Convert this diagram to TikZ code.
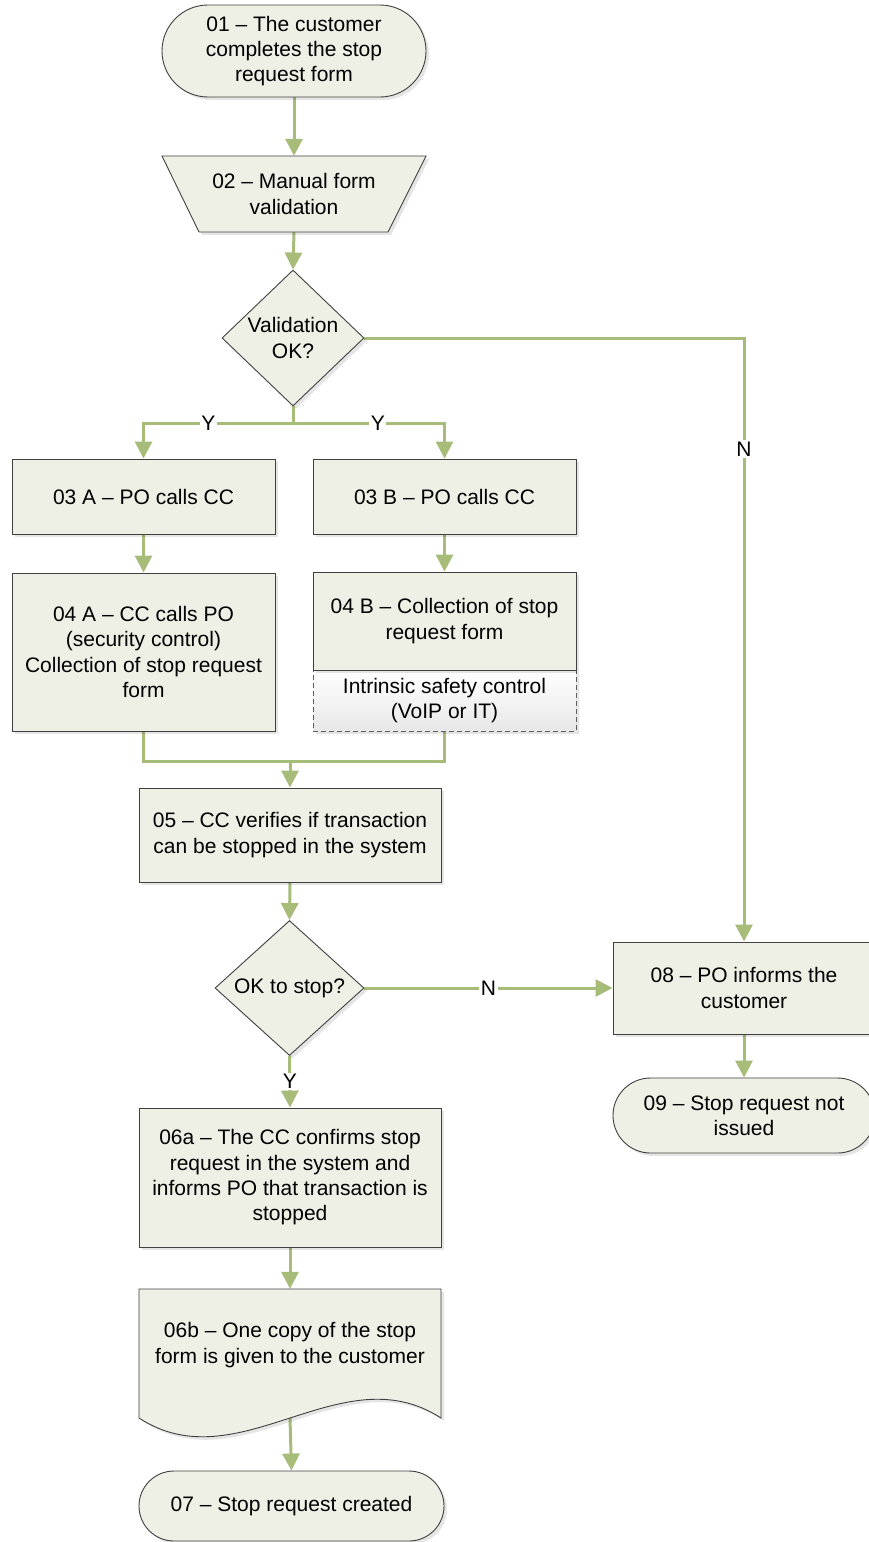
\documentclass[tikz,border=0pt]{standalone}
\usepackage{fontspec}
\setmainfont{Liberation Sans}
\usetikzlibrary{shapes.geometric,arrows.meta,shadows}
\pgfdeclarelayer{bg}
\pgfsetlayers{bg,main}
\definecolor{flowfill}{RGB}{238,240,229}
\definecolor{flowline}{RGB}{168,188,122}
\definecolor{edgegray}{RGB}{64,64,64}
\begin{document}
\begin{tikzpicture}[x=1pt,y=-1pt,
  font=\fontsize{21}{25.3}\selectfont,
  softshadow/.style={drop shadow={shadow xshift=3pt,shadow yshift=-3pt,fill=black,opacity=0.10}},
  boxnode/.style={rectangle, draw=edgegray, line width=0.9pt, fill=flowfill, softshadow, align=center, inner sep=0pt},
  decision/.style={diamond, draw=edgegray, line width=0.9pt, fill=flowfill, softshadow, inner sep=0pt},
  txt/.style={align=center, inner sep=0pt},
  flow/.style={draw=flowline, line width=3pt},
  flowarrow/.style={flow, -{Triangle[length=17pt,width=17pt]}},
  tag/.style={fill=white, inner sep=1.5pt, text=black}
]
\useasboundingbox (0,0) rectangle (868,1542);

% start
\node[boxnode, rounded corners=46pt, minimum width=264pt, minimum height=92pt] (n01) at (294,51)
  {01 – The customer\\completes the stop\\request form};

% manual operation (trapezoid)
\path[fill=flowfill, draw=edgegray, line width=0.9pt, softshadow]
  (162,156) -- (426,156) -- (388,232) -- (199,232) -- cycle;
\node[txt, minimum width=264pt, minimum height=76pt] (n02) at (294,194) {02 – Manual form\\validation};

% first decision
\node[decision, minimum width=142pt, minimum height=136pt] (d1) at (293,338) {};
\node[txt] (d1t) at (d1) {Validation\\OK?};

% branch A and B
\node[boxnode, minimum width=263pt, minimum height=75pt] (n03a) at (143.5,496.5) {03 A – PO calls CC};
\node[boxnode, minimum width=263pt, minimum height=75pt] (n03b) at (444.5,496.5) {03 B – PO calls CC};
\node[boxnode, minimum width=263pt, minimum height=158pt] (n04a) at (143.5,652)
  {04 A – CC calls PO\\(security control)\\Collection of stop request\\form};
\node[rectangle, draw=edgegray!85, dash pattern=on 5pt off 3pt, line width=0.9pt, top color=white, bottom color=black!9,
  softshadow, minimum width=263pt, minimum height=61pt, align=center, inner sep=0pt] (n04c) at (444.5,700.5)
  {Intrinsic safety control\\(VoIP or IT)};
\node[boxnode, minimum width=263pt, minimum height=98pt] (n04b) at (444.5,621)
  {04 B – Collection of stop\\request form};

% verification
\node[boxnode, minimum width=302pt, minimum height=94pt] (n05) at (290,835)
  {05 – CC verifies if transaction\\can be stopped in the system};
\node[decision, minimum width=149pt, minimum height=135pt] (d2) at (289.5,988) {};
\node[txt] (d2t) at (d2) {OK to stop?};

% refusal branch
\node[boxnode, minimum width=262pt, minimum height=92pt] (n08) at (744,988) {08 – PO informs the\\customer};
\node[boxnode, rounded corners=37.5pt, minimum width=262pt, minimum height=75pt] (n09) at (744,1115.5)
  {09 – Stop request not\\issued};

% confirmation branch
\node[boxnode, minimum width=302pt, minimum height=139pt] (n06a) at (290,1177.5)
  {06a – The CC confirms stop\\request in the system and\\informs PO that transaction is\\stopped};
\path[fill=flowfill, draw=edgegray, line width=0.9pt, softshadow]
  (139,1289) -- (441,1289) -- (441,1418) .. controls (341,1353) and (239,1483) .. (139,1418) -- cycle;
\node[txt, minimum width=302pt, minimum height=129pt] (n06b) at (290,1353.5) {};
\node[txt] (n06bt) at (290,1345) {06b – One copy of the stop\\form is given to the customer};
\node[boxnode, rounded corners=35pt, minimum width=305pt, minimum height=70pt] (n07) at (291.5,1506)
  {07 – Stop request created};

% connectors
\begin{pgfonlayer}{bg}
  \fill[white] (0,0) rectangle (868,1542);
  \draw[flowarrow] (n01.south) -- (n02.north);
  \draw[flowarrow] (n02.south) -- (d1.north);
  \coordinate (split) at (293,423);
  \draw[flow] (d1.south) -- (split);
  \draw[flowarrow] (split) -| node[tag,pos=0.283]{Y} (n03a.north);
  \draw[flowarrow] (split) -| node[tag,pos=0.28]{Y} (n03b.north);
  \draw[flowarrow] (d1.east) -| node[tag,pos=0.592]{N} (n08.north);
  \draw[flowarrow] (n03a.south) -- (n04a.north);
  \draw[flowarrow] (n03b.south) -- (n04b.north);
  \coordinate (merge) at (290,761);
  \draw[flow] (n04a.south) |- (merge);
  \draw[flow] (n04c.south) |- (merge);
  \draw[flowarrow] (merge) -- (n05.north);
  \draw[flowarrow] (n05.south) -- (d2.north);
  \draw[flowarrow] (d2.east) -- node[tag]{N} (n08.west);
  \draw[flowarrow] (d2.south) -- node[tag]{Y} (n06a.north);
  \draw[flowarrow] (n06a.south) -- (n06b.north);
  \draw[flowarrow] (n06b.south) -- (n07.north);
  \draw[flowarrow] (n08.south) -- (n09.north);
\end{pgfonlayer}
\end{tikzpicture}
\end{document}
